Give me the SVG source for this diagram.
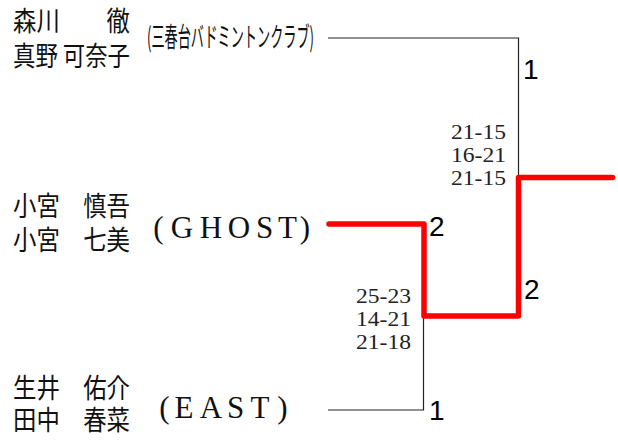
<svg xmlns="http://www.w3.org/2000/svg" width="618" height="446" viewBox="0 0 618 446">
<style>
.name{font-family:"Noto Sans CJK JP","Noto Sans CJK SC",sans-serif;font-size:27px;fill:#111}
.club{font-family:"Noto Sans CJK JP","Noto Sans CJK SC",sans-serif;font-size:27px;fill:#111}
.team{font-family:"Liberation Serif","Times New Roman",serif;font-size:31px;fill:#111;text-anchor:middle}
.score{font-family:"Liberation Serif",serif;font-size:20px;fill:#222;text-anchor:end}
.num{font-family:"Liberation Sans",Arial,sans-serif;font-size:28px;fill:#000}
.thin{fill:none;stroke:#222;stroke-width:1.2}
.win{fill:none;stroke:#ff0000;stroke-width:5.5;stroke-linecap:round;stroke-linejoin:round}
</style>
<rect width="618" height="446" fill="#fff"/>
<g id="connectors">
<path class="thin" d="M328 38H518.5V177"/>
<path class="thin" d="M328 410H423.5V316"/>
<path class="win" d="M329 224H424V316H518.5V177.5H612.5"/>
</g>
<g id="team-sanshundai">
<text class="name" x="13" y="31" textLength="117" lengthAdjust="spacingAndGlyphs">森川　　徹</text>
<text class="name" x="13" y="66" textLength="117" lengthAdjust="spacingAndGlyphs">真野 可奈子</text>
<text class="club" x="147" y="47" textLength="167" lengthAdjust="spacingAndGlyphs">(三春台バドミントンクラブ)</text>
</g>
<g id="team-ghost">
<text class="name" x="13" y="216" textLength="117" lengthAdjust="spacingAndGlyphs">小宮　慎吾</text>
<text class="name" x="13" y="250" textLength="117" lengthAdjust="spacingAndGlyphs">小宮　七美</text>
<text class="team" y="238"><tspan x="158.5">(</tspan><tspan x="182">G</tspan><tspan x="211">H</tspan><tspan x="239">O</tspan><tspan x="264.5">S</tspan><tspan x="287.5">T</tspan><tspan x="305">)</tspan></text>
</g>
<g id="team-east">
<text class="name" x="13" y="398" textLength="117" lengthAdjust="spacingAndGlyphs">生井　佑介</text>
<text class="name" x="13" y="430" textLength="117" lengthAdjust="spacingAndGlyphs">田中　春菜</text>
<text class="team" y="418"><tspan x="164.5">(</tspan><tspan x="184">E</tspan><tspan x="211">A</tspan><tspan x="235.5">S</tspan><tspan x="260">T</tspan><tspan x="282.5">)</tspan></text>
</g>
<g id="match-semi">
<text class="score" x="411" y="302.5" textLength="55" lengthAdjust="spacingAndGlyphs">25-23</text>
<text class="score" x="411" y="325.5" textLength="55" lengthAdjust="spacingAndGlyphs">14-21</text>
<text class="score" x="411" y="348.5" textLength="55" lengthAdjust="spacingAndGlyphs">21-18</text>
<text class="num" x="429" y="236">2</text>
<text class="num" x="429" y="420">1</text>
</g>
<g id="match-final">
<text class="score" x="506" y="139" textLength="55" lengthAdjust="spacingAndGlyphs">21-15</text>
<text class="score" x="506" y="162" textLength="55" lengthAdjust="spacingAndGlyphs">16-21</text>
<text class="score" x="506" y="185" textLength="55" lengthAdjust="spacingAndGlyphs">21-15</text>
<text class="num" x="523" y="79">1</text>
<text class="num" x="524" y="299">2</text>
</g>
</svg>
